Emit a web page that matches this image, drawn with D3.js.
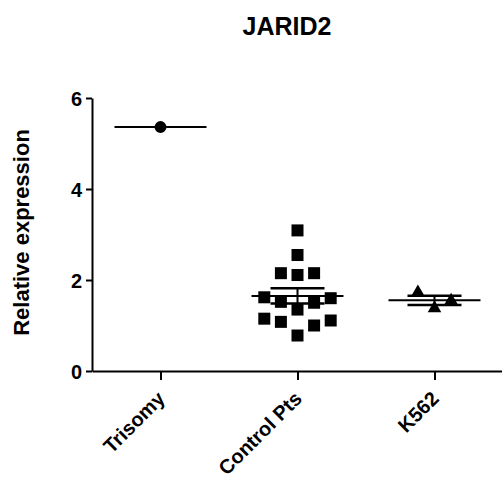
<!DOCTYPE html>
<html>
<head>
<meta charset="utf-8">
<script src="https://cdn.jsdelivr.net/npm/d3@7"></script>
<style>
  html, body { margin: 0; padding: 0; background: #fff; }
  svg { display: block; }
  text { font-family: Arial, "Liberation Sans", sans-serif; font-weight: bold; fill: #000; }
</style>
</head>
<body>
<script>
// ---- data ----
const title = "JARID2";
const yLabel = "Relative expression";
const categories = ["Trisomy", "Control Pts", "K562"];
const trisomy = [5.36];
const controlPts = [0.78, 1.00, 1.08, 1.11, 1.15, 1.35, 1.50, 1.52, 1.60, 1.62, 2.11, 2.15, 2.15, 2.55, 3.09];
const k562 = [1.38, 1.55, 1.73];
const yTicks = [0, 2, 4, 6];

const W = 502, H = 482;
const svg = d3.select("body").append("svg").attr("width", W).attr("height", H);

const x = d3.scalePoint().domain(categories).range([92, 503]).padding(0.5);
const y = d3.scaleLinear().domain([0, 6]).range([371, 98]);

const groups = [
  { cat: categories[0], values: trisomy, sym: d3.symbolCircle, size: 113 },
  { cat: categories[1], values: controlPts, sym: d3.symbolSquare, size: 144 },
  { cat: categories[2], values: k562, sym: d3.symbolTriangle, size: 80 }
];

// title
svg.append("text").attr("x", 287).attr("y", 35).attr("text-anchor", "middle")
  .style("font-size", "25px").text(title);

// y label
svg.append("text").attr("transform", "translate(29,232.5) rotate(-90)")
  .attr("text-anchor", "middle").style("font-size", "22px").text(yLabel);

// axes
const yAxis = svg.append("g").attr("transform", "translate(92,0)")
  .call(d3.axisLeft(y).tickValues(yTicks).tickFormat(d3.format("d"))
    .tickSize(6).tickSizeOuter(0).tickPadding(4));
yAxis.selectAll("text").style("font-size", "20px").attr("dy", "0.35em");

const xAxis = svg.append("g").attr("transform", "translate(0,371)")
  .call(d3.axisBottom(x).tickSize(9).tickSizeOuter(0));
xAxis.selectAll("text")
  .style("font-size", "20px")
  .attr("text-anchor", "end")
  .attr("dy", 0).attr("y", 0)
  .attr("transform", "translate(5,29) rotate(-45)");

svg.selectAll(".domain, .tick line").attr("stroke", "#000").attr("stroke-width", 2);

// beeswarm-like horizontal spread (Prism style)
const step = 16.6, thresh = 18;
function layout(values) {
  const order = [0, 1, -1, 2, -2, 3, -3, 4, -4];
  const placed = [];
  values.slice().sort((a, b) => a - b).forEach(v => {
    const py = y(v);
    for (const s of order) {
      if (!placed.some(p => p.slot === s && Math.abs(p.py - py) < thresh)) {
        placed.push({ v, py, slot: s });
        break;
      }
    }
  });
  return placed;
}

const plot = svg.append("g");
groups.forEach(g => {
  const cx = x(g.cat);
  const m = d3.mean(g.values);
  const n = g.values.length;
  // points
  plot.selectAll(null).data(layout(g.values)).enter().append("path")
    .attr("d", d3.symbol().type(g.sym).size(g.size))
    .attr("transform", d => `translate(${cx + d.slot * step},${d.py})`)
    .attr("fill", "#000");
  // mean line
  plot.append("line").attr("x1", cx - 46).attr("x2", cx + 46)
    .attr("y1", y(m)).attr("y2", y(m)).attr("stroke", "#000").attr("stroke-width", 2);
  // SEM
  if (n > 1) {
    const sem = d3.deviation(g.values) / Math.sqrt(n);
    plot.append("line").attr("x1", cx).attr("x2", cx)
      .attr("y1", y(m - sem)).attr("y2", y(m + sem)).attr("stroke", "#000").attr("stroke-width", 2);
    [m - sem, m + sem].forEach(v => {
      plot.append("line").attr("x1", cx - 27).attr("x2", cx + 27)
        .attr("y1", y(v)).attr("y2", y(v)).attr("stroke", "#000").attr("stroke-width", 2.5);
    });
  }
});
</script>
</body>
</html>
